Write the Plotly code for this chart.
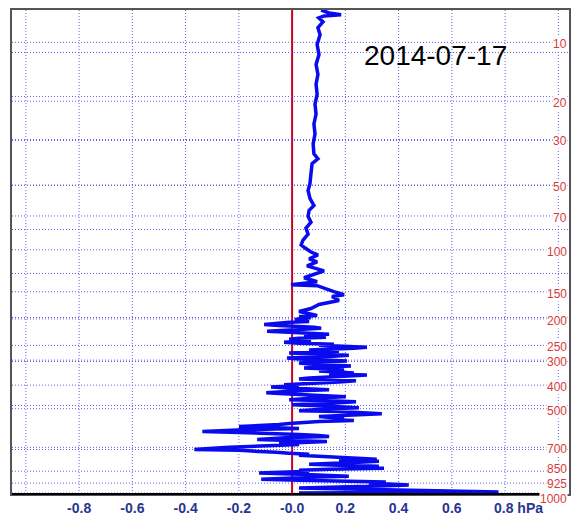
import plotly.graph_objects as go

# Profile: height (km) and pressure difference (hPa)
height_km = [32.9, 32.7, 32.57, 32.5, 32.37, 32.1, 31.7, 31.22, 30.55, 29.87, 29.2, 28.52, 27.85, 27.17,
             26.5, 25.83, 25.15, 24.47, 23.8, 23.13, 22.79, 22.45, 21.78, 21.1, 20.63, 20.09, 19.62, 19.29,
             18.88, 18.48, 18.07, 17.67, 17.26, 16.93, 16.72, 16.45, 16.25, 15.98, 15.78, 15.51, 15.17, 14.9,
             14.7, 14.43, 14.23, 14.16, 13.96, 13.76, 13.55, 13.42, 13.15, 12.88, 12.61, 12.41,
             12.14, 12.07, 12.00, 11.94, 11.87, 11.80, 11.73, 11.67, 11.60, 11.53, 11.46, 11.40, 11.33, 11.26,
             11.19, 11.13, 11.06, 10.99, 10.92, 10.86, 10.79, 10.72, 10.65, 10.59, 10.52, 10.45, 10.38, 10.32,
             10.25, 10.18, 10.11, 10.05, 9.98, 9.91, 9.84, 9.78, 9.71, 9.64, 9.58, 9.51, 9.44, 9.37, 9.31,
             9.24, 9.17, 9.10, 9.04, 8.97, 8.90, 8.83, 8.77, 8.70, 8.63, 8.56, 8.50, 8.43, 8.36, 8.29, 8.23,
             8.16, 8.09, 8.02, 7.96, 7.89, 7.82, 7.75, 7.69, 7.62, 7.55, 7.48, 7.42, 7.35, 7.28, 7.21, 7.15,
             7.08, 7.01, 6.95, 6.88, 6.81, 6.74, 6.68, 6.61, 6.54, 6.47, 6.41, 6.34, 6.27, 6.20, 6.14, 6.07,
             6.00, 5.93, 5.87, 5.80, 5.73, 5.66, 5.60, 5.53, 5.46, 5.39, 5.33, 5.26, 5.19, 5.12, 5.06, 4.99,
             4.92, 4.86, 4.79, 4.72, 4.65, 4.59, 4.52, 4.45, 4.38, 4.32, 4.25, 4.18, 4.11, 4.05, 3.98, 3.91,
             3.84, 3.78, 3.71, 3.64, 3.57, 3.51, 3.44, 3.37, 3.30, 3.24, 3.17, 3.10, 3.03, 2.97, 2.90, 2.83,
             2.77, 2.70, 2.63, 2.56, 2.49, 2.43, 2.36, 2.29, 2.23, 2.16, 2.09, 2.02, 1.96, 1.89, 1.82, 1.75,
             1.69, 1.62, 1.55, 1.48, 1.42, 1.35, 1.28, 1.21, 1.15, 1.08, 1.01, 0.94, 0.88, 0.81, 0.74, 0.67,
             0.61, 0.54, 0.47, 0.40, 0.34, 0.27, 0.20, 0.13, 0.07]
dp_hpa = [0.109, 0.139, 0.184, 0.12, 0.10, 0.116, 0.097, 0.105, 0.094, 0.101, 0.09, 0.097, 0.09, 0.094,
          0.086, 0.09, 0.082, 0.086, 0.079, 0.082, 0.097, 0.075, 0.071, 0.067, 0.06, 0.067, 0.082, 0.064,
          0.06, 0.071, 0.052, 0.06, 0.041, 0.034, 0.049, 0.071, 0.097, 0.064, 0.094, 0.056, 0.12, 0.071,
          0.045, 0.094, -0.004, 0.094, 0.124, 0.157, 0.195, 0.15, 0.176, 0.101, 0.071, 0.026,
          0.094, 0.026, 0.071, 0.045, 0.011, 0.034, 0.064, -0.011, -0.067, -0.105, -0.049, 0.026, 0.082, 0.109,
          0.045, -0.030, -0.094, -0.011, 0.071, 0.139, 0.045, 0.094, 0.127, 0.026, -0.011, 0.071, 0.019, -0.030,
          0.026, 0.157, 0.101, 0.195, 0.281, 0.232, 0.139, 0.064, 0.176, 0.007, -0.011, 0.101, 0.213, 0.157, 0.045,
          -0.019, 0.026, 0.139, 0.206, 0.101, 0.026, 0.064, 0.176, 0.221, 0.120, 0.045, 0.139, 0.195, 0.101, 0.176,
          0.232, 0.139, 0.281, 0.213, 0.101, 0.064, 0.026, 0.139, 0.240, 0.176, 0.082, 0.026, -0.030, 0.026, -0.079,
          -0.011, 0.064, 0.139, 0.026, -0.049, -0.097, -0.030, 0.064, 0.139, 0.202, 0.101, 0.026, -0.011, 0.139,
          0.240, 0.176, 0.064, 0.000, 0.101, 0.213, 0.251, 0.139, 0.064, 0.026, 0.176, 0.270, 0.337, 0.251, 0.176,
          0.101, 0.157, 0.195, 0.139, 0.232, 0.101, 0.026, -0.011, -0.049, -0.124, -0.199, -0.086, 0.026, -0.161,
          -0.292, -0.337, -0.199, -0.049, 0.026, 0.101, 0.139, -0.011, -0.086, -0.131, -0.011, 0.131, 0.064,
          -0.049, 0.026, -0.086, -0.161, -0.236, -0.311, -0.367, -0.199, -0.086, -0.060, -0.011, 0.064, 0.026,
          0.101, 0.213, 0.288, 0.318, 0.176, 0.326, 0.251, 0.139, 0.064, 0.176, 0.326, 0.251, 0.345, 0.139,
          0.026, 0.064, -0.011, -0.124, 0.026, 0.176, 0.213, 0.101, -0.011, -0.116, 0.026, 0.176, 0.352, 0.288,
          0.393, 0.438, 0.326, 0.139, 0.026, 0.213, 0.382, 0.551, 0.775, 0.026]

# Pressure levels (hPa) and their heights (km)
p_levels = ["10", "20", "30", "50", "70", "100", "150", "200", "250", "300", "400", "500", "700", "850", "925", "1000"]
p_height = [30.7, 26.7, 24.1, 21.0, 18.9, 16.6, 13.75, 11.9, 10.1, 9.1, 7.4, 5.8, 3.17, 1.55, 0.74, 0.07]

x_ticks = [-0.8, -0.6, -0.4, -0.2, 0.0, 0.2, 0.4, 0.6]
x_ticktext = ["-0.8", "-0.6", "-0.4", "-0.2", "-0.0", "0.2", "0.4", "0.6"]
x_grid = [-1.0, -0.8, -0.6, -0.4, -0.2, 0.2, 0.4, 0.6, 0.8, 1.0]
date_label = "2014-07-17"

grid_col = "#6060ee"
dotdash = "1px,2px"
navy = "#283593"
FONT = "Liberation Sans, Arial"

fig = go.Figure()

shapes = []
annotations = []
for v in x_grid:
    shapes.append(dict(type="line", xref="x", yref="paper", x0=v, x1=v, y0=0, y1=1,
                       line=dict(color=grid_col, width=1, dash=dotdash), layer="below"))
for lab, h in zip(p_levels, p_height):
    shapes.append(dict(type="line", xref="paper", yref="y", x0=0, x1=0.975, y0=h, y1=h,
                       line=dict(color=grid_col, width=1, dash=dotdash), layer="below"))
    ys = {"1000": -6, "925": -1, "850": 2}.get(lab, -2)
    annotations.append(dict(xref="paper", yref="y", x=1, y=h, text=lab, showarrow=False,
                            xanchor="right", yanchor="middle", xshift=-1, yshift=ys,
                            bgcolor="white", borderpad=0,
                            font=dict(family=FONT, size=12, color="#d83a3a")))
shapes.append(dict(type="line", xref="x", yref="paper", x0=0, x1=0, y0=0, y1=1,
                   line=dict(color="#cc0022", width=2), layer="below"))
shapes.append(dict(type="line", xref="paper", yref="paper", x0=0, x1=0.975, y0=0, y1=0,
                   line=dict(color="black", width=2), layer="above"))

annotations.append(dict(xref="x", yref="paper", x=0.8, y=0, text="<b>0.8 hPa</b>", showarrow=False,
                        xanchor="left", yanchor="top", xshift=-13, yshift=-4,
                        font=dict(family=FONT, size=14, color=navy)))
annotations.append(dict(xref="paper", yref="paper", x=0.76, y=0.905, text=date_label, showarrow=False,
                        xanchor="center", yanchor="middle",
                        font=dict(family=FONT, size=28, color="black")))

fig.add_trace(go.Scatter(x=dp_hpa, y=height_km, mode="lines",
                         line=dict(color="#0a0aee", width=3.5), showlegend=False,
                         hoverinfo="skip"))

fig.update_layout(
    width=575, height=520,
    margin=dict(l=12, r=4, t=10, b=22),
    paper_bgcolor="white", plot_bgcolor="white",
    shapes=shapes, annotations=annotations,
    xaxis=dict(range=[-1.052, 1.04], tickmode="array", tickvals=x_ticks,
               ticktext=["<b>%s</b>" % t for t in x_ticktext],
               showgrid=False, zeroline=False, showline=True, mirror=True,
               linecolor="#555555", linewidth=2, ticks="",
               tickfont=dict(family=FONT, size=14, color=navy)),
    yaxis=dict(range=[0, 32.9], tick0=0, dtick=3, showgrid=True, gridcolor=grid_col,
               griddash=dotdash, gridwidth=1, showticklabels=False, zeroline=False,
               showline=True, mirror=True, linecolor="#555555", linewidth=2, ticks=""),
)

fig.write_html("out.html")
